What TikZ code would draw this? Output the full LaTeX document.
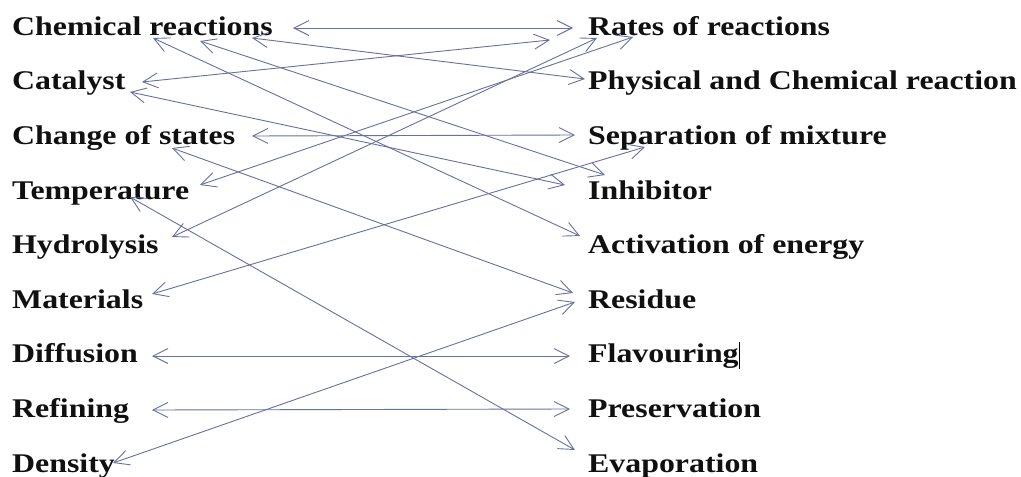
\documentclass[tikz,border=0pt]{standalone}
\usepackage{fontspec}
\usepackage{graphicx}
\setmainfont{Liberation Serif}
\usetikzlibrary{arrows.meta}
\definecolor{linec}{RGB}{104,112,160}
\definecolor{inkc}{RGB}{16,16,16}
% widened bold label text
\newcommand{\itemlabel}[1]{\scalebox{1.18}[1]{\fontsize{27}{32}\selectfont\bfseries #1}}
\begin{document}
\begin{tikzpicture}[x=1pt,y=-1pt,
  lbl/.style={anchor=base west, inner sep=0pt, text=inkc},
  link/.style={draw=linec, line width=0.9pt,
    {Straight Barb[length=15pt,width=15pt]}-{Straight Barb[length=15pt,width=15pt]}}]
\useasboundingbox[fill=white] (0,0) rectangle (1021,477);

% left column
\node[lbl] (chem) at (12,35)  {\itemlabel{Chemical reactions}};
\node[lbl] (cat)  at (12,89)  {\itemlabel{Catalyst}};
\node[lbl] (chg)  at (12,144) {\itemlabel{Change of states}};
\node[lbl] (tmp)  at (12,199) {\itemlabel{Temperature}};
\node[lbl] (hyd)  at (12,253) {\itemlabel{Hydrolysis}};
\node[lbl] (mat)  at (12,308) {\itemlabel{Materials}};
\node[lbl] (dif)  at (12,362) {\itemlabel{Diffusion}};
\node[lbl] (ref)  at (12,417) {\itemlabel{Refining}};
\node[lbl] (den)  at (12,472) {\itemlabel{Density}};

% right column
\node[lbl] (rat)  at (588,35)  {\itemlabel{Rates of reactions}};
\node[lbl] (phy)  at (588,89)  {\itemlabel{Physical and Chemical reaction}};
\node[lbl] (sep)  at (588,144) {\itemlabel{Separation of mixture}};
\node[lbl] (inh)  at (588,199) {\itemlabel{Inhibitor}};
\node[lbl] (act)  at (588,253) {\itemlabel{Activation of energy}};
\node[lbl] (res)  at (588,308) {\itemlabel{Residue}};
\node[lbl] (fla)  at (588,362) {\itemlabel{Flavouring}};
\node[lbl] (pre)  at (588,417) {\itemlabel{Preservation}};
\node[lbl] (eva)  at (588,472) {\itemlabel{Evaporation}};

% text cursor after Flavouring
\coordinate (curT) at (739,342);
\coordinate (curB) at (739,369);
\draw[black, line width=0.8pt] (curT) -- (curB);

% connector ends, left side
\coordinate (chemA) at (293,28);
\coordinate (chemB) at (252,38);
\coordinate (chemC) at (200,41);
\coordinate (chemD) at (153,38);
\coordinate (catA)  at (142,82);
\coordinate (catB)  at (130,92);
\coordinate (chgA)  at (252,136);
\coordinate (chgB)  at (172,148);
\coordinate (tmpA)  at (200,185);
\coordinate (tmpB)  at (130,197);
\coordinate (hydA)  at (172,237);
\coordinate (matA)  at (152,294);
\coordinate (difA)  at (152,356);
\coordinate (refA)  at (152,410);
\coordinate (denA)  at (113,463);

% connector ends, right side
\coordinate (ratA) at (573,28);
\coordinate (ratB) at (550,40);
\coordinate (ratC) at (597,38);
\coordinate (ratD) at (633,37);
\coordinate (phyA) at (585,79);
\coordinate (sepA) at (575,135);
\coordinate (sepB) at (645,147);
\coordinate (inhA) at (605,175);
\coordinate (inhB) at (565,185);
\coordinate (actA) at (580,236);
\coordinate (resA) at (573,293);
\coordinate (resB) at (575,302);
\coordinate (flaA) at (570,356);
\coordinate (preA) at (570,409);
\coordinate (evaA) at (575,450);

% matching links
\draw[link] (chemA) -- (ratA);
\draw[link] (chemB) -- (phyA);
\draw[link] (chemC) -- (inhA);
\draw[link] (chemD) -- (actA);
\draw[link] (catA)  -- (ratB);
\draw[link] (catB)  -- (inhB);
\draw[link] (chgA)  -- (sepA);
\draw[link] (chgB)  -- (resA);
\draw[link] (tmpA)  -- (ratD);
\draw[link] (tmpB)  -- (evaA);
\draw[link] (hydA)  -- (ratC);
\draw[link] (matA)  -- (sepB);
\draw[link] (difA)  -- (flaA);
\draw[link] (refA)  -- (preA);
\draw[link] (denA)  -- (resB);
\end{tikzpicture}
\end{document}
